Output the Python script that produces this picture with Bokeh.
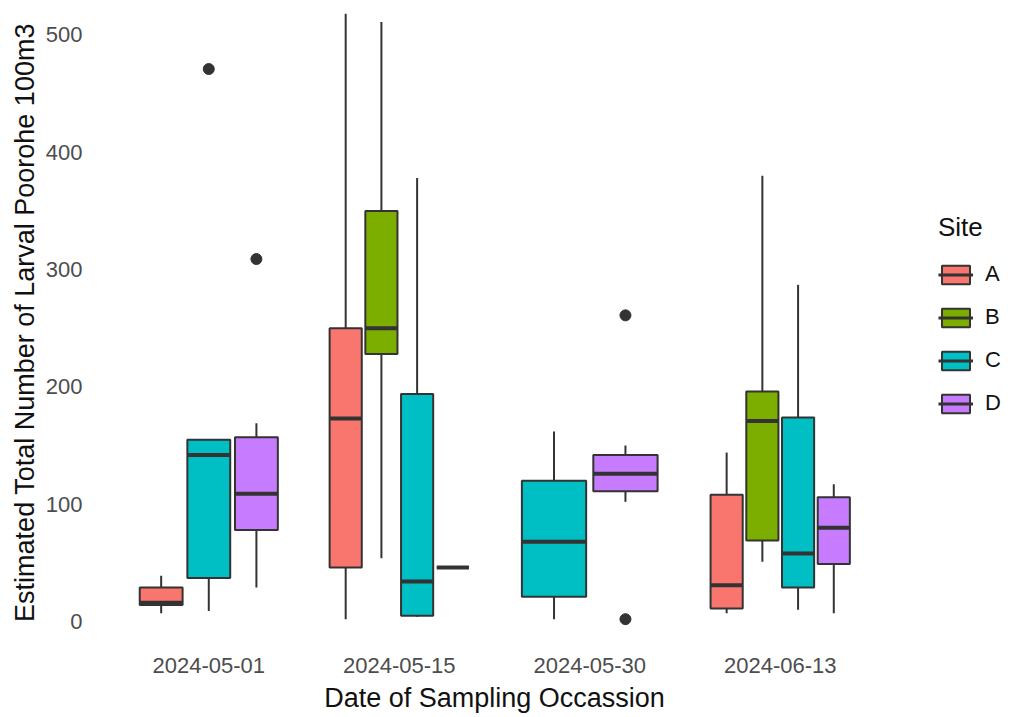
import numpy as np
from bokeh.plotting import figure
from bokeh.layouts import row
from bokeh.models import (ColumnDataSource, Range1d, FixedTicker, Legend, LegendItem, Spacer)
from bokeh.embed import file_html
from bokeh.resources import INLINE

# ---- data ----
dates = ["2024-05-01", "2024-05-15", "2024-05-30", "2024-06-13"]
sites = ["A", "B", "C", "D"]
colors = {"A": "#F8766D", "B": "#7CAE00", "C": "#00BFC4", "D": "#C77CFF"}

box_date = ["2024-05-01", "2024-05-01", "2024-05-01",
            "2024-05-15", "2024-05-15", "2024-05-15", "2024-05-15",
            "2024-05-30", "2024-05-30",
            "2024-06-13", "2024-06-13", "2024-06-13", "2024-06-13"]
box_site = ["A", "C", "D",
            "A", "B", "C", "D",
            "C", "D",
            "A", "B", "C", "D"]
ymin   = [7,   9,   29,   2,   54,  4,   46,   2,   102,  7,   51,  10,  7]
lower  = [14,  37,  78,   46,  228, 5,   46,   21,  111,  11,  69,  29,  49]
middle = [16,  142, 109,  173, 250, 34,  46,   68,  126,  31,  171, 58,  80]
upper  = [29,  155, 157,  250, 350, 194, 46,   120, 142,  108, 196, 174, 106]
ymax   = [39,  155, 169,  518, 511, 378, 46,   162, 150,  144, 380, 287, 117]

out_date  = ["2024-05-01", "2024-05-01", "2024-05-30", "2024-05-30"]
out_site  = ["C", "D", "D", "D"]
out_value = [471, 309, 261, 2]

# ---- dodge positions (like ggplot position_dodge2) ----
dodge_width = 0.75
present = {d: [s for dd, s in zip(box_date, box_site) if dd == d] for d in dates}

def xpos(d, s):
    lst = present[d]
    n = len(lst)
    slot = dodge_width / n
    k = lst.index(s)
    return dates.index(d) + 1 - dodge_width / 2 + slot * (k + 0.5), slot * 0.9

FH = 644
p = figure(frame_width=800, frame_height=FH, x_range=Range1d(0.4, 4.6),
           y_range=Range1d(-19.6, 529.4),
           output_backend="svg", toolbar_location=None,
           min_border_left=0, min_border_right=0, min_border_top=0, min_border_bottom=0)
p.outline_line_color = None
p.xgrid.visible = False
p.ygrid.visible = False
p.background_fill_color = "white"
p.border_fill_color = "white"

# legend-only figure on the right
lg = figure(frame_width=108, frame_height=FH, x_range=Range1d(0, 1), y_range=Range1d(0, 1),
            output_backend="svg", toolbar_location=None, x_axis_type=None, y_axis_type=None,
            min_border_left=0, min_border_right=0, min_border_top=0, min_border_bottom=0)
lg.outline_line_color = None
lg.xgrid.visible = False
lg.ygrid.visible = False

legend_items = []
line_col = "#333333"
for s in sites:
    xs, ws, lo, mi, up, mn, mx = [], [], [], [], [], [], []
    for d, ss, a, b, c, e, f in zip(box_date, box_site, ymin, lower, middle, upper, ymax):
        if ss != s:
            continue
        x, w = xpos(d, s)
        xs.append(x); ws.append(w)
        mn.append(a); lo.append(b); mi.append(c); up.append(e); mx.append(f)
    src = ColumnDataSource(dict(x=xs, w=ws, lo=lo, mi=mi, up=up, mn=mn, mx=mx,
                                x0=[x - w / 2 for x, w in zip(xs, ws)],
                                x1=[x + w / 2 for x, w in zip(xs, ws)]))
    p.segment(x0="x", y0="up", x1="x", y1="mx", source=src, line_color=line_col, line_width=2)
    p.segment(x0="x", y0="lo", x1="x", y1="mn", source=src, line_color=line_col, line_width=2)
    p.vbar(x="x", width="w", bottom="lo", top="up", source=src,
           fill_color=colors[s], line_color=line_col, line_width=2)
    p.segment(x0="x0", y0="mi", x1="x1", y1="mi", source=src,
              line_color=line_col, line_width=4)
    # legend key renderers: one undrawable (NaN) row, used only for the key
    key_src = ColumnDataSource(dict(x=np.array([np.nan]), y=np.array([np.nan])))
    kb = lg.vbar(x="x", width=0.1, bottom="y", top="y", source=key_src,
                 fill_color=colors[s], line_color=line_col, line_width=2)
    km = lg.segment(x0="x", y0="y", x1="x", y1="y", source=key_src,
                    line_color=line_col, line_width=3)
    legend_items.append(LegendItem(label=s, renderers=[kb, km]))

ox = [xpos(d, s)[0] for d, s in zip(out_date, out_site)]
p.scatter(x=ox, y=out_value, size=11, fill_color=line_col, line_color=line_col)

font = "Liberation Sans"
p.xaxis.ticker = FixedTicker(ticks=[1, 2, 3, 4])
p.xaxis.major_label_overrides = {i + 1: d for i, d in enumerate(dates)}
p.yaxis.ticker = FixedTicker(ticks=[0, 100, 200, 300, 400, 500])
for ax in (p.xaxis[0], p.yaxis[0]):
    ax.axis_line_color = None
    ax.major_tick_line_color = None
    ax.minor_tick_line_color = None
    ax.major_tick_out = 0
    ax.major_tick_in = 0
    ax.major_label_text_font = font
    ax.major_label_text_font_size = "22px"
    ax.major_label_text_color = "#4D4D4D"
    ax.axis_label_text_font = font
    ax.axis_label_text_font_size = "27px"
    ax.axis_label_text_font_style = "normal"
    ax.axis_label_text_color = "#111111"
p.xaxis.axis_label = "Date of Sampling Occassion"
p.yaxis.axis_label = "Estimated Total Number of Larval Poorohe 100m3"
p.xaxis.major_label_standoff = 13
p.xaxis.axis_label_standoff = 7
p.yaxis.major_label_standoff = 12
p.yaxis.axis_label_standoff = 3

legend = Legend(items=legend_items, title="Site", location=(44, 228))
legend.title_text_font = font
legend.title_text_font_size = "26px"
legend.title_text_font_style = "normal"
legend.title_text_color = "#111111"
legend.title_standoff = 18
legend.label_text_font = font
legend.label_text_font_size = "22px"
legend.label_text_color = "#111111"
legend.glyph_width = 35
legend.glyph_height = 23
legend.spacing = 17
legend.label_standoff = 12
legend.padding = 0
legend.margin = 0
legend.border_line_color = None
legend.background_fill_alpha = 0
lg.add_layout(legend)

layout = row(Spacer(width=6, height=10), p, lg)
open("out.html", "w").write(file_html(layout, INLINE))
